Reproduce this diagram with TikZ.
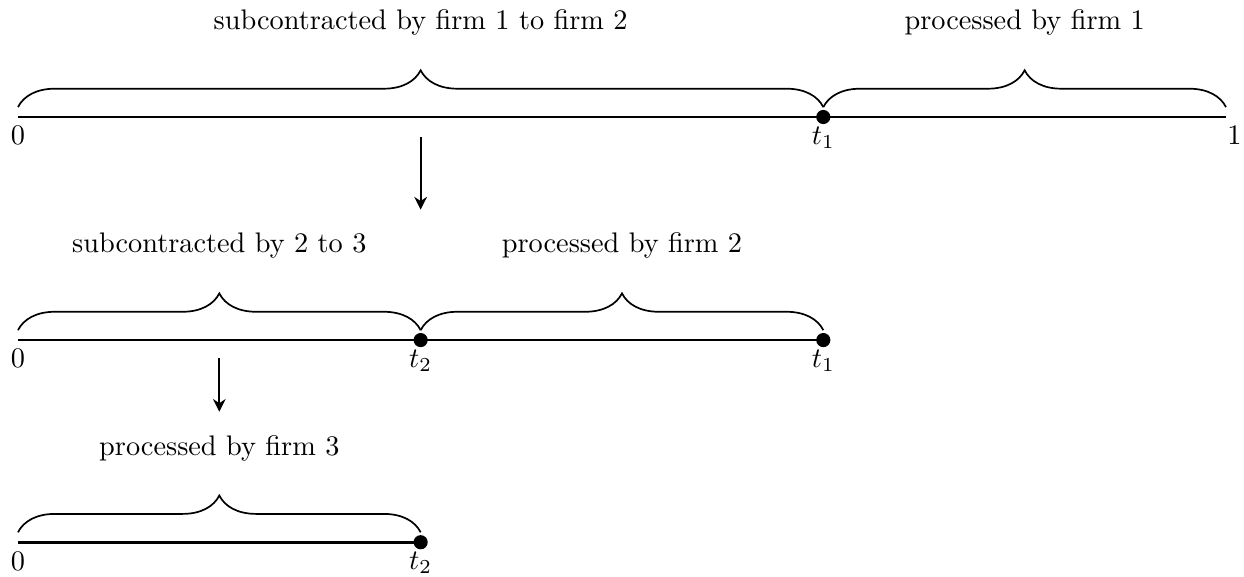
\documentclass[tikz,border=0pt]{standalone}
\usetikzlibrary{decorations.pathreplacing,arrows.meta}
\begin{document}
\begin{tikzpicture}[
	seg/.style={line width=1pt},
	brc/.style={decorate,decoration={brace,amplitude=13pt,raise=3.5pt},line width=0.6pt},
	dot/.style={circle,fill,inner sep=0pt,minimum size=5pt},
	lbl/.style={below,inner sep=2pt,yshift=-1.2pt},
	flow/.style={-{Stealth[length=4.5pt,width=4.5pt]},semithick}]
		\useasboundingbox (-0.2235,-5.70) rectangle (15.224,1.453);
		
		% first interval [0,1]
		\coordinate (a0) at (0,0);
		\coordinate (a1) at (10,0);
		\coordinate (a2) at (15,0);
		\draw[seg] (a0)--(a2);
		\draw[brc] (a0)--(a1);
		\draw[brc] (a1)--(a2);
		\node[dot] (da1) at (a1) {};
		\node[lbl] (la0) at (a0) {$0$};
		\node[lbl] (la1) at (a1) {$t_1$};
		\node[lbl,xshift=3pt] (la2) at (a2) {$1$};
		\node (ta1) at (5, 1.18) {subcontracted by firm 1 to firm 2};
		\node (ta2) at (12.5, 1.18) {processed by firm 1};
		
		% second interval [0,t1]
		\coordinate (b0) at (0,-2.77);
		\coordinate (b1) at (5,-2.77);
		\coordinate (b2) at (10,-2.77);
		\draw[seg] (b0)--(b2);
		\draw[brc] (b0)--(b1);
		\draw[brc] (b1)--(b2);
		\node[dot] (db1) at (b1) {};
		\node[dot] (db2) at (b2) {};
		\node[lbl] (lb0) at (b0) {$0$};
		\node[lbl] (lb1) at (b1) {$t_2$};
		\node[lbl] (lb2) at (b2) {$t_1$};
		\node (tb1) at (2.5, -1.60) {subcontracted by 2 to 3};
		\node (tb2) at (7.5, -1.60) {processed by firm 2};
		
		% third interval [0,t2]
		\coordinate (c0) at (0,-5.28);
		\coordinate (c1) at (5,-5.28);
		\draw[seg] (c0)--(c1);
		\draw[brc] (c0)--(c1);
		\node[dot] (dc1) at (c1) {};
		\node[lbl] (lc0) at (c0) {$0$};
		\node[lbl] (lc1) at (c1) {$t_2$};
		\node (tc1) at (2.5, -4.12) {processed by firm 3};
		
		% arrows
		\coordinate (fa) at (5,-0.25);
		\coordinate (fb) at (5,-1.15);
		\coordinate (fc) at (2.5,-2.99);
		\coordinate (fd) at (2.5,-3.66);
		\draw[flow] (fa)--(fb);
		\draw[flow] (fc)--(fd);
	\end{tikzpicture}
\end{document}
